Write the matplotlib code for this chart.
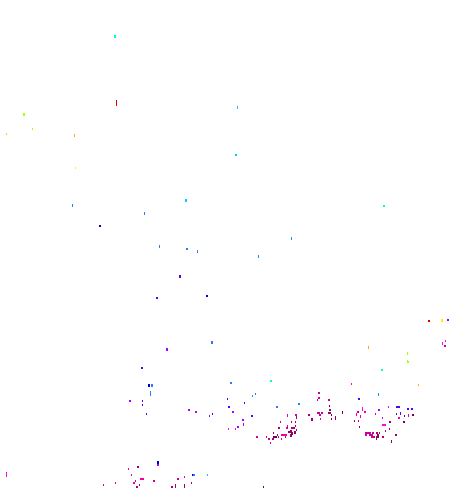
import matplotlib
matplotlib.use("Agg")
import matplotlib.pyplot as plt
from matplotlib.colors import ListedColormap
from matplotlib.path import Path

# colour levels, low to high
palette = ['#770055', '#990066', '#aa0077', '#cc0099', '#f000a8', '#ff00ff', '#aa00ff', '#5500ff', '#0000cc',
           '#3377ff', '#0099ff', '#00ccff', '#00ffcc', '#aaff00', '#ffee00', '#ffaa00', '#dd0000']

# points drawn 1 wide, 2 high
thin_x = [32.5, 6.5, 75.5, 142.5, 142.5, 146.5, 227.5, 212.5, 209.5, 228.5, 235.5, 255.5, 252.5, 244.5, 317.5, 329.5,
          320.5, 331.5, 331.5, 280.5, 291.5, 295.5, 295.5, 296.5, 273.5, 277.5, 278.5, 285.5, 281.5, 266.5, 270.5, 418.5,
          351.5, 388.5, 375.5, 396.5, 404.5, 382.5, 354.5, 358.5, 359.5, 389.5, 385.5, 445.5, 131.5, 128.5, 207.5,
          184.5, 135.5, 115.5, 191.5, 103.5, 139.5, 263.5, 379.5, 376.5]
thin_y = [128.5, 134, 168, 401, 405, 414, 399, 414, 416, 429, 429, 394, 396, 403, 400, 406,
          419, 419, 415, 422, 422, 422, 426, 430, 433, 435, 437, 437, 439, 437, 443, 385,
          384, 407, 414, 414, 416, 418, 421, 421, 427, 429, 431, 341, 475, 469, 475,
          477, 481, 483, 483, 485, 485, 487, 433, 439]
thin_z = [13, 13, 14, 7, 7, 7, 7, 7, 6, 5, 5, 9, 10, 7, 3, 0,
          4, 0, 0, 3, 2, 2, 2, 2, 2, 2, 2, 3, 3, 3, 3, 15,
          5, 5, 6, 7, 7, 6, 1, 3, 1, 1, 2, 5, 4, 4, 11,
          4, 3, 3, 2, 3, 2, 0, 2, 1]

# points drawn 1 wide, 3 high
tall_x = [74.5, 237.5, 291.5, 258.5, 72.5, 144.5, 159.5, 197.5, 243.5, 287.5, 296.5, 287.5, 378.5, 342.5, 356.5, 400.5,
          408.5, 360.5, 442.5, 368.5, 407.5, 407.5, 391.5, 116.5, 116.5, 150.5, 150.5, 335.5, 335.5, 362.5, 362.5,
          6.5, 6.5, 175.5, 175.5, 184.5, 184.5]
tall_y = [135.5, 107, 238, 256, 205, 213, 246, 251, 424.5, 415.5, 417.5, 426.5, 394.5, 412.5, 414.5, 413.5,
          415.5, 416.5, 343.5, 347.5, 353.5, 361.5, 441.5, 101.5, 104.5, 392.5, 394, 417.5, 418.5, 408.5, 409.5,
          473.5, 475.5, 485.5, 486.5, 485.5, 486.5]
tall_z = [15, 11, 10, 10, 9, 9, 9, 9, 6, 4, 2, 3, 10, 0, 4, 7,
          4, 4, 5, 15, 13, 13, 1, 16, 16, 9, 9, 1, 1, 5, 5,
          5, 5, 2, 2, 1, 1]

# points drawn 2 wide, 2 high
dot_x = [236, 384, 100, 187, 157, 207, 142, 130, 231, 229, 189, 196, 233, 238, 271, 277, 299, 252, 243, 319, 319, 329,
         330, 329, 330, 318, 319, 322, 309, 320, 296, 287, 279, 292, 294, 291, 289, 282, 284, 286, 276, 274, 273, 269, 257, 359,
         397, 399, 408, 412, 379, 365, 358, 413, 399, 390, 404, 383, 385, 366, 368, 370, 373, 377, 366, 370, 372, 378,
         372, 374, 377, 378, 396, 383, 429, 448,
         445, 408, 382, 158, 138, 193, 194, 141, 143, 178, 154, 134, 137, 172]
dot_y = [155, 206, 226, 249, 298, 296, 368, 401, 383, 407, 410, 412, 412, 427, 381, 407, 404, 416, 420, 393, 398, 400,
         410, 413, 413, 413, 413, 413, 415, 415, 415, 428, 428, 428, 428, 431, 432, 435, 435, 435, 437, 437, 439, 439, 437, 399,
         407, 407, 409, 409, 410, 412, 412, 415, 418, 422, 422, 425, 425, 433, 433, 433, 433, 433, 435, 435, 435, 435,
         437, 437, 437, 437, 435, 437, 321, 320,
         346, 362, 370, 465, 467, 475, 475, 479, 479, 479, 481, 483, 487, 487]
dot_z = [11, 12, 8, 9, 7, 8, 7, 6, 9, 7, 6, 6, 6, 6, 12, 9, 10, 7, 6, 3, 3, 3,
         1, 1, 1, 3, 3, 3, 2, 3, 3, 3, 2, 2, 2, 1, 1, 4, 4, 4, 0, 0, 2, 3, 3, 7,
         7, 7, 7, 7, 6, 4, 3, 0, 4, 1, 0, 5, 5, 3, 3, 3, 3, 2, 3, 3, 3, 1,
         3, 3, 1, 1, 1, 2, 16, 6,
         3, 13, 12, 6, 1, 8, 9, 4, 4, 3, 3, 4, 2, 2]

# points drawn 2 wide, 3 high
big_x = [115, 24, 186, 180, 212, 167, 149, 152, 312, 295, 442, 158, 292, 291, 291]
big_y = [36.5, 114.5, 200.5, 276, 342.5, 349.5, 385.5, 385.5, 419.5, 432.5, 320.5, 462.5, 433.5, 431.5, 435]
big_z = [12, 13, 11, 7, 9, 6, 8, 9, 1, 1, 14, 8, 1, 1, 1]


def box(w, h):
    # rectangle marker, centred on the point
    return Path([(-w, -h), (w, -h), (w, h), (-w, h), (-w, -h)], closed=True)


fig = plt.figure(figsize=(4.65, 4.88), dpi=100)
ax = fig.add_axes([0, 0, 1, 1])
cmap = ListedColormap(palette)

px = 72 / fig.dpi
ax.scatter(thin_x, thin_y, c=thin_z, cmap=cmap, vmin=-0.5, vmax=16.5, marker=box(1, 2), s=(2 * px) ** 2,
           linewidths=0, antialiased=False)
ax.scatter(tall_x, tall_y, c=tall_z, cmap=cmap, vmin=-0.5, vmax=16.5, marker=box(1, 3), s=(3 * px) ** 2,
           linewidths=0, antialiased=False)
ax.scatter(dot_x, dot_y, c=dot_z, cmap=cmap, vmin=-0.5, vmax=16.5, marker=box(1, 1), s=(2 * px) ** 2,
           linewidths=0, antialiased=False)
ax.scatter(big_x, big_y, c=big_z, cmap=cmap, vmin=-0.5, vmax=16.5, marker=box(2, 3), s=(3 * px) ** 2,
           linewidths=0, antialiased=False)

ax.set_xlim(0, 465)
ax.set_ylim(488, 0)
ax.axis('off')

fig.savefig('out.png', dpi=100)
